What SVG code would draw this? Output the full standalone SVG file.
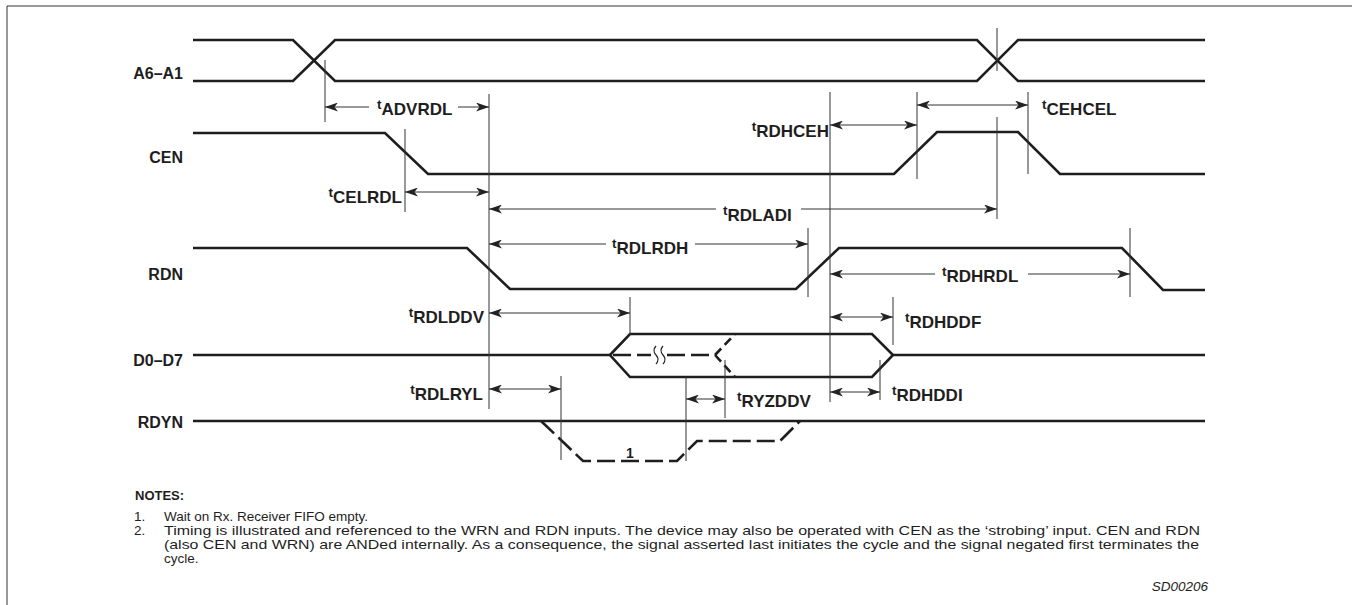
<svg xmlns="http://www.w3.org/2000/svg" width="1352" height="605" viewBox="0 0 1352 605">
<defs>
<marker id="ah" viewBox="0 0 13 9" refX="13" refY="4.5" markerWidth="13" markerHeight="9" markerUnits="userSpaceOnUse" orient="auto-start-reverse"><path d="M0,0 L13,4.5 L0,9 L3.5,4.5 Z" fill="#222"/></marker>
</defs>
<style>
.wf{fill:none;stroke:#1e1e1e;stroke-width:2.6;stroke-linejoin:miter}
.ref{stroke:#333;stroke-width:1;fill:none}
.dim{stroke:#333;stroke-width:1;fill:none}
.a2{marker-start:url(#ah);marker-end:url(#ah)}
.as{marker-start:url(#ah)}
.ae{marker-end:url(#ah)}
.sig{font-family:"Liberation Sans",Arial,sans-serif;font-weight:bold;font-size:16px;fill:#1e1e1e}
.tl{font-family:"Liberation Sans",Arial,sans-serif;font-weight:bold;font-size:17px;fill:#1e1e1e}
.ts{font-size:13.5px}
.note{font-family:"Liberation Sans",Arial,sans-serif;font-size:13.5px;fill:#1e1e1e}
.dash{stroke-dasharray:18 6}
.dsh2{stroke-dasharray:9 5}
.brk{fill:none;stroke:#1e1e1e;stroke-width:1.2}
</style>
<g id="frame"><path d="M7,6 H1352 M7,6 V605" stroke="#333" stroke-width="1" fill="none"/></g>

<g id="sig-a6a1">
<text class="sig" x="183" y="79" text-anchor="end">A6–A1</text>
<path class="wf" d="M193,40 H293 L335,81 H977 L1018,40 H1205"/>
<path class="wf" d="M193,81 H293 L335,40 H977 L1018,81 H1205"/>
</g>
<g id="sig-cen">
<text class="sig" x="183" y="163" text-anchor="end">CEN</text>
<path class="wf" d="M193,133 H385 L428,174 H894 L937,132 H1018 L1060,174 H1205"/>
</g>
<g id="sig-rdn">
<text class="sig" x="183" y="280" text-anchor="end">RDN</text>
<path class="wf" d="M193,248 H467 L510,289 H796 L839,248 H1122 L1163,290 H1205"/>
</g>
<g id="sig-d0d7">
<text class="sig" x="183" y="366" text-anchor="end">D0–D7</text>
<path class="wf" d="M193,355 H610 M893,355 H1205"/>
<path class="wf" d="M610,355 L630,334 H872 L893,355 L872,377 H630 Z"/>
<path class="wf dash" d="M613,355 H651 M667,355 H715"/>
<path class="wf dsh2" d="M715,355 L735,334 M715,355 L735,377"/>
<path class="brk" d="M656,346 q-4,4.5 0,9 q4,4.5 0,9 M663,346 q-4,4.5 0,9 q4,4.5 0,9"/>
</g>
<g id="sig-rdyn">
<text class="sig" x="183" y="428" text-anchor="end">RDYN</text>
<path class="wf" d="M193,421 H1205"/>
<path class="wf dash" d="M541,421 L583,461 H677 L697,441 H780 L800,421"/>
<text class="sig" style="font-size:14px" x="630" y="458" text-anchor="middle">1</text>
</g>

<g id="connectors">
<path class="ref" d="M325,60 V122 M489,94 V409 M405,129 V212 M830,92 V402 M917,92 V179 M1028,92 V174 M997,28 V71 M997,117 V219 M808,228 V297 M1130,228 V297 M630,297 V335 M893,297 V345 M880,360 V400 M561,376 V460 M686,377 V461 M725,360 V418"/>
<path class="dim as" d="M325,107 H369"/><path class="dim ae" d="M458,107 H489"/>
<path class="dim a2" d="M917,105 H1028"/>
<path class="dim a2" d="M830,125 H917"/>
<path class="dim a2" d="M405,192 H489"/>
<path class="dim as" d="M489,209 H716"/><path class="dim ae" d="M801,209 H997"/>
<path class="dim as" d="M489,244 H606"/><path class="dim ae" d="M695,244 H808"/>
<path class="dim as" d="M830,274 H935"/><path class="dim ae" d="M1028,274 H1130"/>
<path class="dim a2" d="M489,313 H630"/>
<path class="dim a2" d="M830,317 H893"/>
<path class="dim a2" d="M489,389 H561"/>
<path class="dim a2" d="M830,392 H880"/>
<path class="dim a2" d="M686,399 H725"/>
</g>

<g id="timing-labels">
<text class="tl" x="377" y="115"><tspan class="ts" dy="-6">t</tspan><tspan dy="6">ADVRDL</tspan></text>
<text class="tl" x="1042" y="115"><tspan class="ts" dy="-6">t</tspan><tspan dy="6">CEHCEL</tspan></text>
<text class="tl" x="829" y="137" text-anchor="end"><tspan class="ts" dy="-6">t</tspan><tspan dy="6">RDHCEH</tspan></text>
<text class="tl" x="402" y="203" text-anchor="end"><tspan class="ts" dy="-6">t</tspan><tspan dy="6">CELRDL</tspan></text>
<text class="tl" x="723" y="221"><tspan class="ts" dy="-6">t</tspan><tspan dy="6">RDLADI</tspan></text>
<text class="tl" x="612" y="254"><tspan class="ts" dy="-6">t</tspan><tspan dy="6">RDLRDH</tspan></text>
<text class="tl" x="942" y="282"><tspan class="ts" dy="-6">t</tspan><tspan dy="6">RDHRDL</tspan></text>
<text class="tl" x="484" y="323" text-anchor="end"><tspan class="ts" dy="-6">t</tspan><tspan dy="6">RDLDDV</tspan></text>
<text class="tl" x="905" y="328"><tspan class="ts" dy="-6">t</tspan><tspan dy="6">RDHDDF</tspan></text>
<text class="tl" x="483" y="400" text-anchor="end"><tspan class="ts" dy="-6">t</tspan><tspan dy="6">RDLRYL</tspan></text>
<text class="tl" x="737" y="407"><tspan class="ts" dy="-6">t</tspan><tspan dy="6">RYZDDV</tspan></text>
<text class="tl" x="892" y="401"><tspan class="ts" dy="-6">t</tspan><tspan dy="6">RDHDDI</tspan></text>
</g>

<g id="notes">
<text class="note" style="font-weight:bold;font-size:13px" x="135" y="500">NOTES:</text>
<text class="note" x="134" y="521">1.</text>
<text class="note" x="164" y="521">Wait on Rx. Receiver FIFO empty.</text>
<text class="note" x="134" y="535">2.</text>
<text class="note" x="164" y="535" textLength="1036" lengthAdjust="spacingAndGlyphs">Timing is illustrated and referenced to the WRN and RDN  inputs. The device may also be operated with CEN as the ‘strobing’ input. CEN and RDN</text>
<text class="note" x="164" y="549" textLength="1035" lengthAdjust="spacingAndGlyphs">(also CEN and WRN) are ANDed internally. As a consequence, the signal asserted last initiates the cycle and the signal negated first terminates the</text>
<text class="note" x="164" y="563">cycle.</text>
<text class="note" style="font-style:italic" x="1208" y="591" text-anchor="end">SD00206</text>
</g>
</svg>
